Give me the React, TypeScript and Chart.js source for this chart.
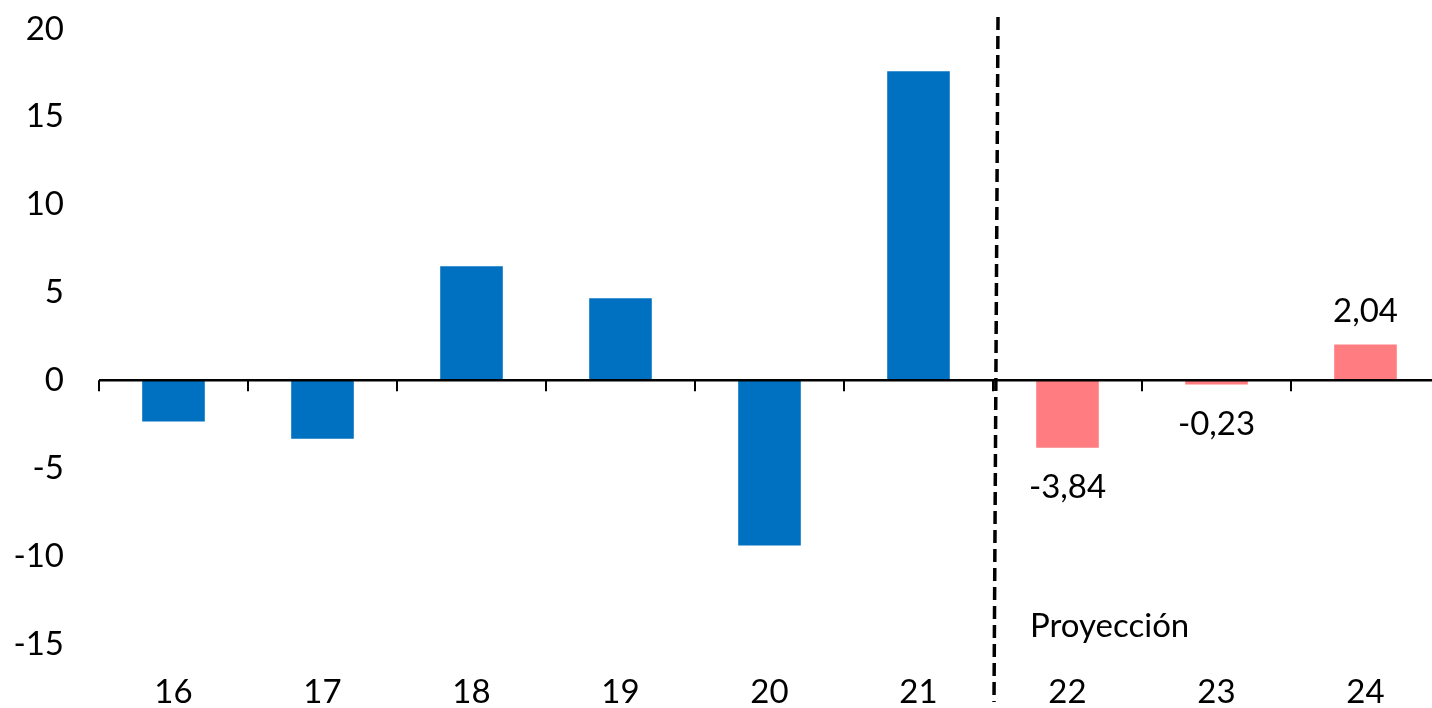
import React, { useEffect, useRef } from 'react';
import { Chart, registerables } from 'chart.js';
Chart.register(...registerables);

const categories = ['16', '17', '18', '19', '20', '21', '22', '23', '24'];
const values = [-2.34, -3.32, 6.5, 4.67, -9.4, 17.6, -3.84, -0.23, 2.04];
const projected = [false, false, false, false, false, false, true, true, true];
const valueLabels = ['', '', '', '', '', '', '-3,84', '-0,23', '2,04'];
const yTicks = [-15, -10, -5, 0, 5, 10, 15, 20];
const yMin = -17;
const yMax = 20;
const projectionStartIndex = 6;
const projectionLabel = 'Proyección';
const projectionLabelValue = -14;

const BLUE = '#0070C0';
const PINK = '#FF7C80';
const FONT = 'Lato, "Open Sans", sans-serif';
const FS = 33;

const overlayPlugin = {
  id: 'overlay',
  afterDatasetsDraw(chart: any) {
    const { ctx, chartArea } = chart;
    const x = chart.scales.x;
    const y = chart.scales.y;
    const y0 = y.getPixelForValue(0);
    const n = categories.length;
    const step = (x.getPixelForValue(1) - x.getPixelForValue(0));
    ctx.save();
    // zero axis line
    ctx.strokeStyle = '#000';
    ctx.lineWidth = 2.5;
    ctx.beginPath();
    ctx.moveTo(chartArea.left, y0);
    ctx.lineTo(chartArea.right, y0);
    ctx.stroke();
    // tick marks at category boundaries
    ctx.lineWidth = 2;
    for (let i = 0; i <= n; i++) {
      const px = Math.round(x.getPixelForValue(0) - step / 2 + i * step);
      ctx.beginPath();
      ctx.moveTo(px, y0);
      ctx.lineTo(px, y0 + 11);
      ctx.stroke();
    }
    // dashed projection separator
    const sx = x.getPixelForValue(projectionStartIndex) - step / 2 + 3;
    ctx.lineWidth = 3.5;
    ctx.setLineDash([13, 6]);
    ctx.beginPath();
    ctx.moveTo(sx + 2, 17);
    ctx.lineTo(sx - 2, 702);
    ctx.stroke();
    ctx.setLineDash([]);
    // projection label
    ctx.fillStyle = '#000';
    ctx.font = `${FS}px ${FONT}`;
    ctx.textAlign = 'left';
    ctx.textBaseline = 'middle';
    ctx.fillText(projectionLabel, sx + 34, y.getPixelForValue(projectionLabelValue));
    // value labels
    ctx.textAlign = 'center';
    values.forEach((v, i) => {
      if (!valueLabels[i]) return;
      const px = x.getPixelForValue(i);
      const py = y.getPixelForValue(v);
      ctx.fillText(valueLabels[i], px, v >= 0 ? py - 33 : py + 40);
    });
    ctx.restore();
  },
};

export default function App() {
  const ref = useRef<HTMLCanvasElement>(null);
  useEffect(() => {
    document.body.style.margin = '0';
    const chart = new Chart(ref.current!, {
      type: 'bar',
      data: {
        labels: categories,
        datasets: [
          {
            data: values,
            backgroundColor: projected.map((p) => (p ? PINK : BLUE)),
            barPercentage: 0.42,
            categoryPercentage: 1,
          },
        ],
      },
      options: {
        responsive: false,
        animation: false,
        devicePixelRatio: 1,
        layout: { padding: { top: 29, right: 0, bottom: 0, left: 0 } },
        plugins: { legend: { display: false }, tooltip: { enabled: false } },
        scales: {
          x: {
            grid: { display: false, drawTicks: false },
            border: { display: false },
            ticks: { color: '#000', font: { family: FONT, size: FS, lineHeight: 26 / FS }, padding: 0 },
            afterFit: (s: any) => {
              s.height = 29;
              s.paddingLeft = 0;
              s.paddingRight = 0;
              s.paddingTop = 0;
              s.paddingBottom = 0;
            },
          },
          y: {
            min: yMin,
            max: yMax,
            grid: { display: false, drawTicks: false },
            border: { display: false },
            ticks: { color: '#000', font: { family: FONT, size: FS }, padding: 35 },
            afterBuildTicks: (s: any) => { s.ticks = yTicks.map((v) => ({ value: v })); },
            afterFit: (s: any) => {
              s.width = 99;
              s.paddingTop = 0;
              s.paddingBottom = 0;
              s.paddingLeft = 0;
              s.paddingRight = 0;
            },
          },
        },
      },
      plugins: [overlayPlugin],
    });
    return () => chart.destroy();
  }, []);
  return (
    <div style={{ width: 1432, height: 708, overflow: 'hidden' }}>
      <canvas ref={ref} width={1440} height={708} style={{ width: 1440, height: 708, display: 'block' }} />
    </div>
  );
}
